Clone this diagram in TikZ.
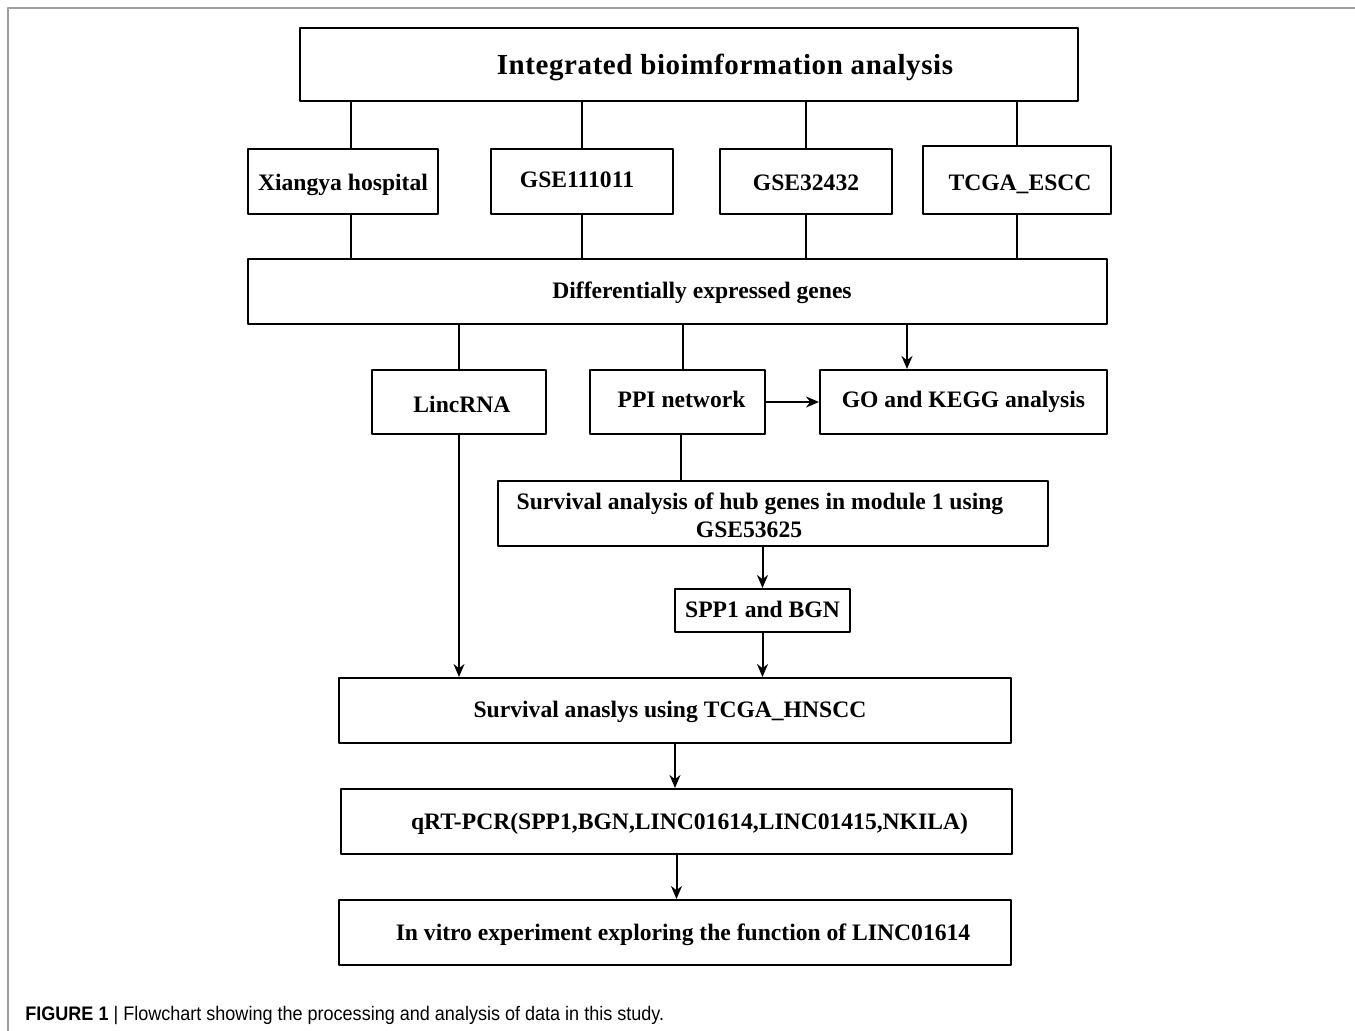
\documentclass[tikz,border=0pt]{standalone}
\usepackage{fontspec}
\setmainfont{Liberation Serif}
\newfontfamily\capfont[FakeStretch=0.92]{Liberation Sans}
\usetikzlibrary{positioning,arrows.meta}
\tikzset{
	hop/.style={draw, line width=1pt, inner sep=0pt, align=center,
		font=\fontsize{11.8}{14}\selectfont\bfseries},
	mot/.style={hop, text height=10pt, text depth=2.5pt},
	noi/.style={line width=1pt}
}
\begin{document}
\begin{tikzpicture}[x=0.5pt, y=-0.5pt, line join=round, >={Stealth[length=6.5pt,width=5.5pt]}]
				%% khung
				\useasboundingbox (0,0) rectangle (1355,1031);
				\draw[gray!75, line width=1pt] (8,1031)--(8,8)--(1355,8);
				%% cac o
				\node[mot, minimum width=389pt, minimum height=36.5pt,
				font=\fontsize{14.5}{16}\selectfont\bfseries\addfontfeature{LetterSpace=2}]
				(tong) at (689,64.5) {\hspace*{36pt}\raisebox{-1.25pt}{Integrated bioimformation analysis}};
				\node[mot, minimum width=95pt, minimum height=32.5pt] (xiang) at (343,181.5) {\raisebox{-0.75pt}{Xiangya hospital}};
				\node[mot, minimum width=91pt, minimum height=32.5pt] (gsea) at (582,181.5) {\hspace*{-5pt}\raisebox{0.75pt}{GSE111011}};
				\node[mot, minimum width=86pt, minimum height=32.5pt] (gseb) at (806,181.5) {\raisebox{-0.75pt}{GSE32432}};
				\node[mot, minimum width=94pt, minimum height=34pt] (tcga) at (1017,180) {\hspace*{3pt}\raisebox{-1.5pt}{TCGA\_ESCC}};
				\node[mot, minimum width=429.5pt, minimum height=32.5pt] (deg) at (677.5,291.5) {\hspace*{24.5pt}Differentially expressed genes};
				\node[mot, minimum width=87pt, minimum height=32pt] (linc) at (459,402) {\hspace*{3pt}\raisebox{-1.5pt}{LincRNA}};
				\node[mot, minimum width=87.5pt, minimum height=32pt] (ppi) at (677.5,402) {\hspace*{4pt}\raisebox{1pt}{PPI network}};
				\node[mot, minimum width=143.5pt, minimum height=32pt] (gokegg) at (963.5,402) {\raisebox{1pt}{GO and KEGG analysis}};
				\node[hop, minimum width=275pt, minimum height=32.5pt] (hub) at (773,513.5)
				{\raisebox{-2pt}[\height][\depth]{\begin{tabular}{@{}c@{}}\hspace*{-13pt}Survival analysis of hub genes in module 1 using\\\hspace*{-24pt}GSE53625\end{tabular}}};
				\node[mot, minimum width=87.5pt, minimum height=21.5pt] (spp) at (762.5,610.5) {SPP1 and BGN};
				\node[mot, minimum width=336pt, minimum height=32.5pt] (hnscc) at (675,710.5) {\hspace*{-5pt}Survival anaslys using TCGA\_HNSCC};
				\node[mot, minimum width=335.5pt, minimum height=32.5pt] (qrt) at (676.5,821.5) {\hspace*{13pt}qRT-PCR(SPP1,BGN,LINC01614,LINC01415,NKILA)};
				\node[mot, minimum width=336pt, minimum height=32.5pt] (vitro) at (675,932.5) {\hspace*{8pt}In vitro experiment exploring the function of LINC01614};
				%% duong noi
				\foreach \o/\d in {xiang/4pt,gsea/0pt,gseb/0pt,tcga/0pt}{
				\draw[noi] ([xshift=\d]\o.north) -- ([xshift=\d]\o.north |- tong.south);
				\draw[noi] ([xshift=\d]\o.south) -- ([xshift=\d]\o.south |- deg.north);
				}
				\draw[noi] (linc.north) -- (linc.north |- deg.south);
				\draw[noi] ([xshift=2.75pt]ppi.north) -- ([xshift=2.75pt]ppi.north |- deg.south);
				\draw[noi,->] ([xshift=44pt]gokegg.north west |- deg.south) -- ([xshift=44pt]gokegg.north west);
				\draw[noi,->] (ppi.east) -- (gokegg.west);
				\draw[noi] ([xshift=1.75pt]ppi.south) -- ([xshift=1.75pt]ppi.south |- hub.north);
				\draw[noi,->] (spp.north |- hub.south) -- (spp.north);
				\draw[noi,->] (spp.south) -- (spp.south |- hnscc.north);
				\draw[noi,->] (linc.south) -- (linc.south |- hnscc.north);
				\draw[noi,->] (hnscc.south) -- (hnscc.south |- qrt.north);
				\draw[noi,->] (qrt.south) -- (qrt.south |- vitro.north);
				%% chu thich
				\node[anchor=base west, inner sep=0pt, font=\capfont\fontsize{9.8}{12}\selectfont]
				(chuthich) at (25,1020) {\textbf{FIGURE 1} | Flowchart showing the processing and analysis of data in this study.};
		\end{tikzpicture}
\end{document}
